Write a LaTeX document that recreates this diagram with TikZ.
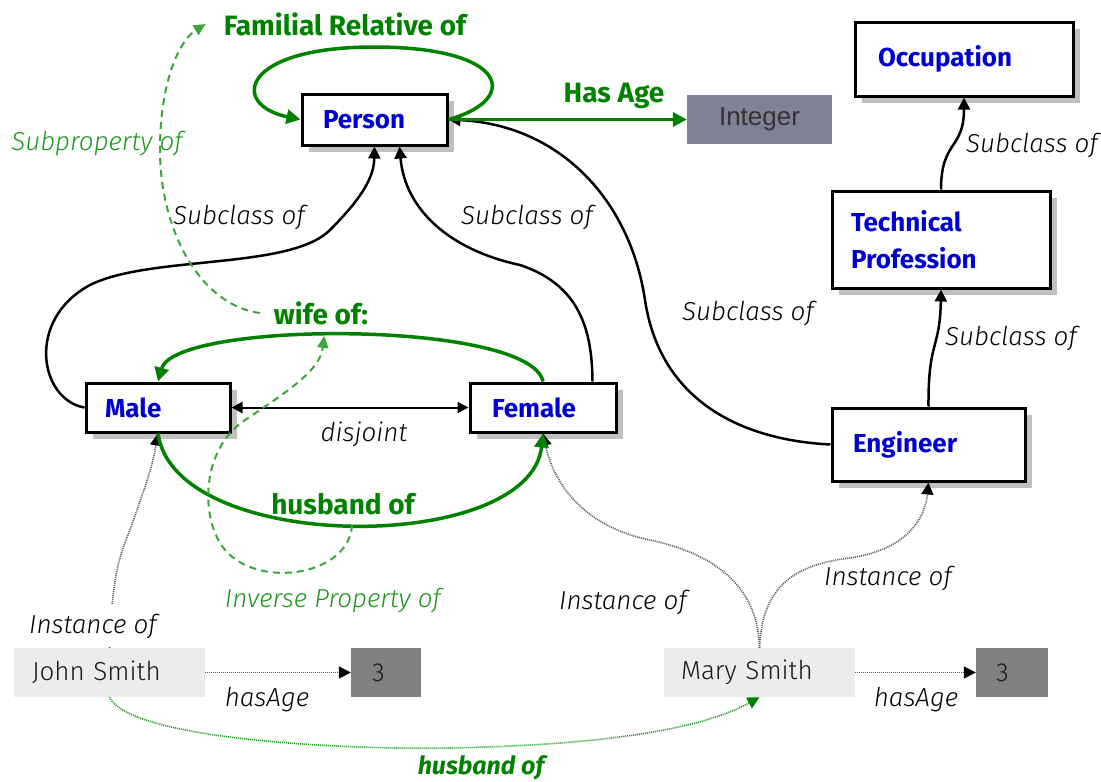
\documentclass[tikz,border=0pt]{standalone}
\usepackage{fontspec}
\setmainfont{Fira Sans}
\newfontfamily\lightfont{Fira Sans Light}[ItalicFont={Fira Sans Light Italic}]
\newfontfamily\arialfont{Liberation Sans}
\usetikzlibrary{arrows.meta,shadows,calc}
\definecolor{clsblue}{RGB}{0,0,210}
\definecolor{relgreen}{RGB}{0,130,0}
\definecolor{dashgreen}{RGB}{60,165,60}
\definecolor{litegreen}{RGB}{30,150,30}
\definecolor{shadowgray}{RGB}{192,192,192}
\definecolor{instfill}{RGB}{236,236,236}
\definecolor{valfill}{RGB}{128,128,128}
\definecolor{intfill}{RGB}{128,128,150}
\definecolor{dotgray}{RGB}{90,90,90}
\begin{document}
\begin{tikzpicture}[x=1pt,y=-1pt,
  cls/.style={draw=black, line width=3pt, fill=white, text=clsblue,
    font=\fontsize{26}{37}\selectfont\bfseries, align=left,
    drop shadow={shadow xshift=7pt, shadow yshift=-7pt, fill=shadowgray, opacity=1}},
  inst/.style={fill=instfill, text=black!90, font=\lightfont\fontsize{26}{30}\selectfont,
    align=left, minimum height=49pt},
  val/.style={fill=valfill, text=black!90, font=\lightfont\fontsize{26}{30}\selectfont,
    align=left, minimum height=49pt},
  lbl/.style={inner sep=0pt},
  sub/.style={lbl, font=\lightfont\itshape\fontsize{26}{30}\selectfont, text=black},
  subgreen/.style={lbl, font=\lightfont\itshape\fontsize{26}{30}\selectfont, text=litegreen},
  rel/.style={lbl, font=\bfseries\fontsize{28}{32}\selectfont, text=relgreen},
  subc/.style={draw=black, line width=2.5pt, -{Triangle[length=12pt,width=12pt]}},
  relarc/.style={draw=relgreen, line width=3.5pt, -{Triangle[length=14pt,width=14pt]}},
  dashrel/.style={draw=dashgreen, line width=2pt, dash pattern=on 7pt off 5pt,
    -{Triangle[length=12pt,width=11pt]}},
  instof/.style={draw=dotgray, line width=1.6pt, dash pattern=on 1pt off 1pt,
    -{Triangle[length=12pt,width=12pt,color=black]}},
  husbdot/.style={draw=litegreen, line width=1.6pt, dash pattern=on 1pt off 1pt,
    -{Triangle[length=12pt,width=12pt,color=relgreen]}},
]
\fill[white] (0,0) rectangle (1101,782);
\useasboundingbox (0,0) rectangle (1101,782);

% classes
\node[cls, text width=103pt, inner xsep=21pt, minimum height=51pt] (Person) at (374.5,119.5) {Person};
\node[cls, text width=172pt, inner xsep=23pt, minimum height=74pt] (Occupation) at (964,59) {Occupation};
\node[cls, text width=180pt, inner xsep=19pt, minimum height=97pt] (TechProf) at (941,239.5) {Technical\\Profession};
\node[cls, text width=151pt, inner xsep=21pt, minimum height=73pt] (Engineer) at (928.5,444.5) {Engineer};
\node[cls, text width=106pt, inner xsep=19pt, minimum height=49pt] (Male) at (158,407.5) {Male};
\node[cls, text width=102pt, inner xsep=22pt, minimum height=49pt] (Female) at (543,407.5) {Female};
\node[fill=intfill, minimum width=145pt, minimum height=49pt, text=black!80,
  font=\arialfont\fontsize{26}{30}\selectfont] (Integer) at (759.5,119.5) {Integer};

% individuals and values
\node[inst, text width=155pt, inner xsep=18pt] (John) at (109.5,672.5) {John Smith};
\node[val, text width=28pt, inner xsep=21pt] (J3) at (386,672.5) {3};
\node[inst, text width=157pt, inner xsep=17pt] (Mary) at (759.5,672.5) {Mary Smith};
\node[val, text width=32pt, inner xsep=20pt] (M3) at (1012,672.5) {3};

% instance-of links
\draw[instof] (John.north) .. controls (112,570) and (122,550) .. (130,530)
  .. controls (142,495) and (152,470) .. (Male.south);
\draw[instof] (Mary.north) .. controls (758,590) and (720,555) .. (650,540)
  .. controls (590,528) and (555,490) .. (Female.south);
\draw[instof] (Mary.north) .. controls (762,590) and (790,565) .. (850,558)
  .. controls (905,550) and (925,520) .. (Engineer.south);
\draw[instof] (John.east) -- (J3.west);
\draw[instof] (Mary.east) -- (M3.west);
\draw[husbdot] (John.south) .. controls (130,740) and (350,750) .. (450,748)
  .. controls (600,745) and (700,730) .. (Mary.south);

% labels
\node[sub, fill=white, inner xsep=4pt, inner ysep=9pt] (instJ) at (93,626) {Instance of};
\node[sub] (instF) at (623,602) {Instance of};
\node[sub] (instE) at (888,578) {Instance of};
\node[sub] (ageJ) at (267,700) {hasAge};
\node[sub] (ageM) at (916,700) {hasAge};
\node[sub] (subM) at (239,217) {Subclass of};
\node[sub] (subF) at (527,217) {Subclass of};
\node[sub] (subE) at (748,313) {Subclass of};
\node[sub] (subO) at (1032,145) {Subclass of};
\node[sub] (subT) at (1011,338) {Subclass of};
\node[sub] (disj) at (364,434) {disjoint};
\node[subgreen] (subprop) at (97,144) {Subproperty of};
\node[subgreen] (invprop) at (333,601) {Inverse Property of};
\node[rel] (famlbl) at (345,24) {Familial Relative of};
\node[rel] (agelbl) at (614,96) {Has Age};
\node[rel] (wifelbl) at (321,313) {wife of:};
\node[rel] (husblbl) at (343,504) {husband of};
\node[rel, font=\bfseries\itshape\fontsize{25}{30}\selectfont] (husblbl2) at (481,768) {husband of};

% subclass links
\draw[subc] (Male.west) .. controls (40,400) and (25,320) .. (90,285)
  .. controls (150,255) and (290,270) .. (330,230)
  .. controls (365,195) and (374,175) .. (Person.south);
\draw[subc] ([xshift=-25pt]Female.north east) .. controls (592,330) and (580,285) .. (520,265)
  .. controls (450,250) and (405,210) .. ([xshift=25pt]Person.south);
\draw[subc] (Engineer.west) .. controls (740,440) and (660,400) .. (645,300)
  .. controls (630,200) and (560,125) .. (Person.east);
\draw[subc] (TechProf.north) .. controls (941,140) and (964,150) .. (Occupation.south);
\draw[subc] (Engineer.north) .. controls (928,340) and (940,350) .. (TechProf.south);

% properties
\draw[relarc] (Person.east) .. controls (520,100) and (510,47) .. (374,47)
  .. controls (240,47) and (230,105) .. (Person.west);
\draw[relarc] (Person.east) -- (Integer.west);
\draw[relarc] (Female.north) .. controls (530,320) and (175,320) .. (Male.north)
  coordinate[pos=0.55] (wifept);
\draw[relarc] (Male.south) .. controls (175,555) and (530,555) .. (Female.south)
  coordinate[pos=0.5] (husbpt);
\draw[black, line width=2pt, {Triangle[length=11pt,width=11pt]}-{Triangle[length=11pt,width=11pt]}]
  (Male.east) -- (Female.west);

% property hierarchy
\draw[dashrel] (husbpt) .. controls (350,575) and (260,590) .. (225,550)
  .. controls (200,520) and (200,450) .. (245,420)
  .. controls (290,390) and (320,370) .. (wifept);
\draw[dashrel] ([xshift=-14pt]wifelbl.west) .. controls (200,305) and (160,230) .. (160,150)
  .. controls (160,80) and (180,40) .. ([xshift=-18pt]famlbl.west);
\end{tikzpicture}
\end{document}
